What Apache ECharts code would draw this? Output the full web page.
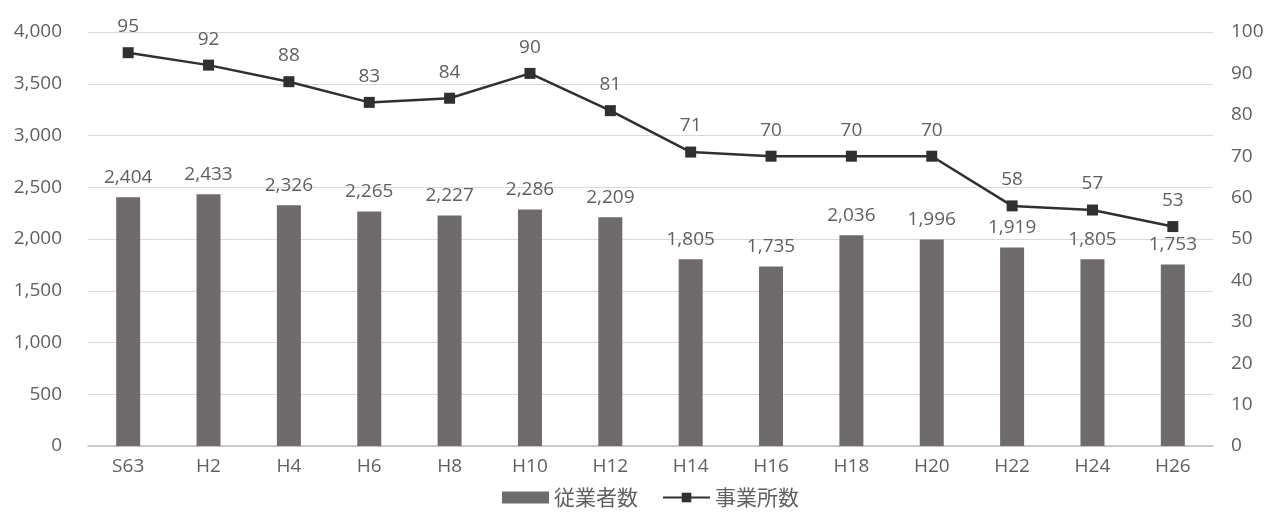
<!DOCTYPE html>
<html>
<head>
<meta charset="utf-8">
<script src="https://cdn.jsdelivr.net/npm/echarts@6/dist/echarts.min.js"></script>
<style>
  html, body { margin: 0; padding: 0; background: #fff; }
  #chart { width: 1269px; height: 513px; }
</style>
</head>
<body>
<div id="chart"></div>
<script>
// Years (Showa 63, then Heisei every two years)
const categories = ['S63', 'H2', 'H4', 'H6', 'H8', 'H10', 'H12', 'H14', 'H16', 'H18', 'H20', 'H22', 'H24', 'H26'];
// Number of employees (left axis)
const employees = [2404, 2433, 2326, 2265, 2227, 2286, 2209, 1805, 1735, 2036, 1996, 1919, 1805, 1753];
// Number of establishments (right axis)
const establishments = [95, 92, 88, 83, 84, 90, 81, 71, 70, 70, 70, 58, 57, 53];

const font = '"Noto Sans CJK JP", "Open Sans", sans-serif';
const numFont = '"Open Sans", sans-serif';
const textColor = '#606060';
const fs = 19;

const chart = echarts.init(document.getElementById('chart'), null, { renderer: 'canvas' });
chart.setOption({
  animation: false,
  textStyle: { fontFamily: font },
  grid: { left: 88, right: 56, top: 32, bottom: 67 },
  legend: {
    bottom: 0,
    left: 497,
    itemGap: 24,
    itemWidth: 47,
    itemHeight: 12,
    textStyle: { color: textColor, fontSize: 21, fontFamily: font },
    data: [
      { name: '従業者数', icon: 'rect' },
      { name: '事業所数' }
    ]
  },
  xAxis: {
    type: 'category',
    data: categories,
    axisLine: { lineStyle: { color: '#bfbfbf', width: 1.5 } },
    axisTick: { show: false },
    axisLabel: { color: textColor, fontSize: fs, margin: 11, fontFamily: numFont }
  },
  yAxis: [
    {
      type: 'value',
      min: 0, max: 4000, interval: 500,
      axisLine: { show: false },
      axisTick: { show: false },
      splitLine: { lineStyle: { color: '#d9d9d9', width: 1 } },
      axisLabel: {
        color: textColor, fontSize: fs, margin: 26,
        fontFamily: numFont,
        formatter: v => v.toLocaleString('en-US')
      }
    },
    {
      type: 'value',
      min: 0, max: 100, interval: 10,
      axisLine: { show: false },
      axisTick: { show: false },
      splitLine: { show: false },
      axisLabel: { color: textColor, fontSize: fs, margin: 18, fontFamily: numFont }
    }
  ],
  series: [
    {
      name: '従業者数',
      type: 'bar',
      yAxisIndex: 0,
      data: employees,
      barWidth: 24,
      itemStyle: { color: '#6f6a6b' },
      label: {
        show: true,
        position: 'top',
        distance: 10,
        color: textColor,
        fontSize: fs,
        fontFamily: numFont,
        formatter: p => p.value.toLocaleString('en-US')
      },
      z: 2
    },
    {
      name: '事業所数',
      type: 'line',
      yAxisIndex: 1,
      data: establishments,
      symbol: 'rect',
      symbolSize: 11,
      lineStyle: { color: '#303030', width: 2.5 },
      itemStyle: { color: '#303030' },
      label: {
        show: true,
        position: 'top',
        distance: 11,
        color: textColor,
        fontSize: fs,
        fontFamily: numFont
      },
      z: 3
    }
  ]
});
</script>
</body>
</html>
